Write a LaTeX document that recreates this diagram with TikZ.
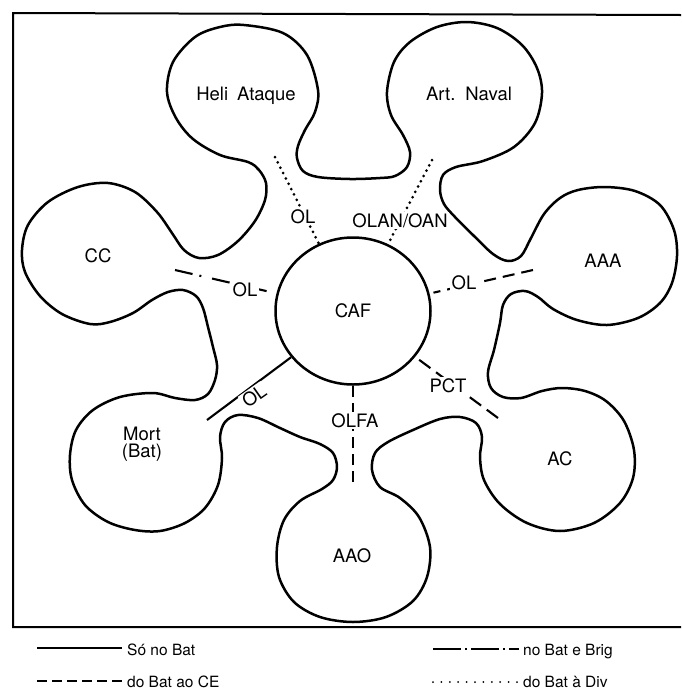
\documentclass[tikz,border=0pt]{standalone}
\usepackage{fontspec}
\setmainfont{TeX Gyre Heros}
\usetikzlibrary{shapes.geometric}
\begin{document}
\begin{tikzpicture}[x=1pt,y=-1pt,
  outline/.style={line width=2.5pt, line join=round},
  lbl/.style={font=\fontsize{18.5}{18}\selectfont, inner sep=0pt},
  tag/.style={lbl, fill=white, inner sep=1.5pt},
  link/.style={line width=2.1pt},
  solidlink/.style={link},
  dashlink/.style={link, dash pattern=on 12pt off 7pt},
  dashdotlink/.style={link, dash pattern=on 18pt off 7pt on 2pt off 11pt},
  dotlink/.style={link, line width=3pt, line cap=round, dash pattern=on 0pt off 6pt},
  legline/.style={line width=2.3pt},
  legtext/.style={font=\fontsize{15.5}{16}\selectfont, anchor=base west, inner sep=0pt}
]
\fill[white] (0,0) rectangle (681,689);
\useasboundingbox (0,0) rectangle (681,689);

% frame (open on the right)
\draw[line width=2pt] (681,15) -- (13,13) -- (13,627) -- (681,627);

% petal outline around the command post
\draw[outline] plot[smooth cycle, tension=0.55] coordinates {
  % Heli Ataque
  (244,25) (283,33) (307,55) (318,90) (315,112) (305,130)
  (298,146) (297,158) (303,171) (318,177) (350,179) (380,178) (395,176)
  (407,167) (410,152) (403,135) (391,115)
  % Art. Naval
  (387,92) (394,62) (410,42) (437,27) (467,22) (497,28) (522,45) (537,68)
  (542,93) (535,123) (514,147) (483,161) (456,167)
  (443,175) (440,190) (444,204) (455,217) (473,235) (493,254) (508,261)
  (521,256) (531,238) (544,214) (560,198) (578,190)
  % AAA
  (605,187) (635,191) (660,205) (674,230) (677,256) (672,283) (660,303)
  (638,318) (607,325) (577,320) (553,309)
  (538,297) (525,291) (511,294) (503,305) (500,323) (494,350) (488,372)
  (491,388) (503,397) (521,398) (542,391)
  % AC
  (562,388) (585,391) (606,401) (624,421) (634,450) (633,478) (620,503)
  (594,523) (560,531) (527,523) (500,504) (484,480) (480,457) (482,437)
  (476,423) (460,417) (440,419) (413,430) (388,442) (375,453) (372,470)
  (380,487) (400,498) (419,517)
  % AAO
  (430,547) (427,577) (413,601) (386,617) (353,622) (320,617) (294,602)
  (279,577) (277,547) (284,520) (300,501) (322,489)
  (333,480) (337,467) (333,453) (320,444) (300,437) (280,428) (258,418)
  (238,415) (225,422) (220,437)
  % Mort (Bat)
  (222,458) (218,485) (205,508) (185,523) (160,531) (135,530) (108,522)
  (85,505) (72,480) (70,455) (76,430) (93,410) (120,397) (153,393)
  (175,398) (195,400) (208,394) (215,380) (217,365) (213,347) (208,327)
  (203,308) (196,296) (183,290) (168,292) (152,300) (133,313) (110,322)
  % CC
  (90,324) (62,314) (40,296) (25,272) (22,250) (28,225) (48,202) (78,187)
  (108,183) (135,192) (157,212) (172,233) (184,250)
  (199,258) (218,255) (238,241) (255,221) (265,200) (266,183) (259,170)
  (248,162)
  % back to Heli Ataque
  (220,155) (193,139) (176,118) (167,92) (173,62) (195,37) (220,27)
};

% central node
\node[draw, outline, ellipse, minimum width=155pt, minimum height=147pt,
      inner sep=0pt, lbl] (caf) at (353,311) {CAF};

% petal labels
\node[lbl, anchor=base] (heli) at (246,100) {Heli\kern 9pt Ataque};
\node[lbl, anchor=base] (naval) at (469,100) {Art.\kern 10pt Naval};
\node[lbl, anchor=base] (cc) at (98,262) {CC};
\node[lbl, anchor=base] (aaa) at (603,267) {AAA};
\node[lbl, anchor=base] (ac) at (560,465) {AC};
\node[lbl, anchor=base] (aao) at (352,562) {AAO};
\node[lbl, align=center, anchor=base] (mort) at (142,457) {Mort\\[-1pt](Bat)};

% outer ends of the liaison lines
\coordinate (heliend) at (275,157);
\coordinate (navalend) at (432,160);
\coordinate (ccend) at (175,270);
\coordinate (aaaend) at (533,270);
\coordinate (mortend) at (207,420);
\coordinate (aaoend) at (353,482);
\coordinate (acend) at (498,418);

% liaison lines
\draw[dotlink] (heliend) -- (caf);
\draw[dotlink] (navalend) -- (caf);
\draw[dashdotlink, shorten >=10pt] (ccend) -- (caf);
\draw[dashlink, shorten >=4pt] (aaaend) -- (caf);
\draw[solidlink] (mortend) -- (caf);
\draw[dashlink, dash pattern=on 11pt off 6pt] (aaoend) -- (caf);
\draw[dashlink, dash pattern=on 14pt off 7pt] (acend) -- (caf);

% liaison tags
\node[tag, anchor=base] (heliol) at (303,223) {OL};
\node[tag, anchor=base] (navalol) at (400,227) {OLAN/OAN};
\node[tag, anchor=base] (ccol) at (245,296) {OL};
\node[tag, anchor=base] (aaaol) at (464,289) {OL};
\node[tag, rotate=35] (mortol) at (254,396) {OL};
\node[tag, anchor=base] (aaool) at (355,427) {OLFA};
\node[tag, anchor=base] (acol) at (448,392) {PCT};

% legend
\coordinate (lsa) at (37,648);  \coordinate (lsb) at (122,648);
\coordinate (lda) at (37,681);  \coordinate (ldb) at (122,681);
\coordinate (lca) at (433,649); \coordinate (lcb) at (519,649);
\coordinate (lta) at (433,682); \coordinate (ltb) at (517,682);
\draw[legline] (lsa) -- (lsb);
\draw[legline, dash pattern=on 10pt off 5pt] (lda) -- (ldb);
\draw[legline, dash pattern=on 28pt off 4pt on 2pt off 4pt] (lca) -- (lcb);
\draw[legline, line width=2pt, line cap=round, dash pattern=on 0pt off 8.4pt] (lta) -- (ltb);
\node[legtext] (lsolid) at (127,655) {Só no Bat};
\node[legtext] (ldash) at (127,687) {do Bat ao CE};
\node[legtext] (ldashdot) at (523,655) {no Bat e Brig};
\node[legtext] (ldot) at (523,687) {do Bat à Div};
\end{tikzpicture}
\end{document}
